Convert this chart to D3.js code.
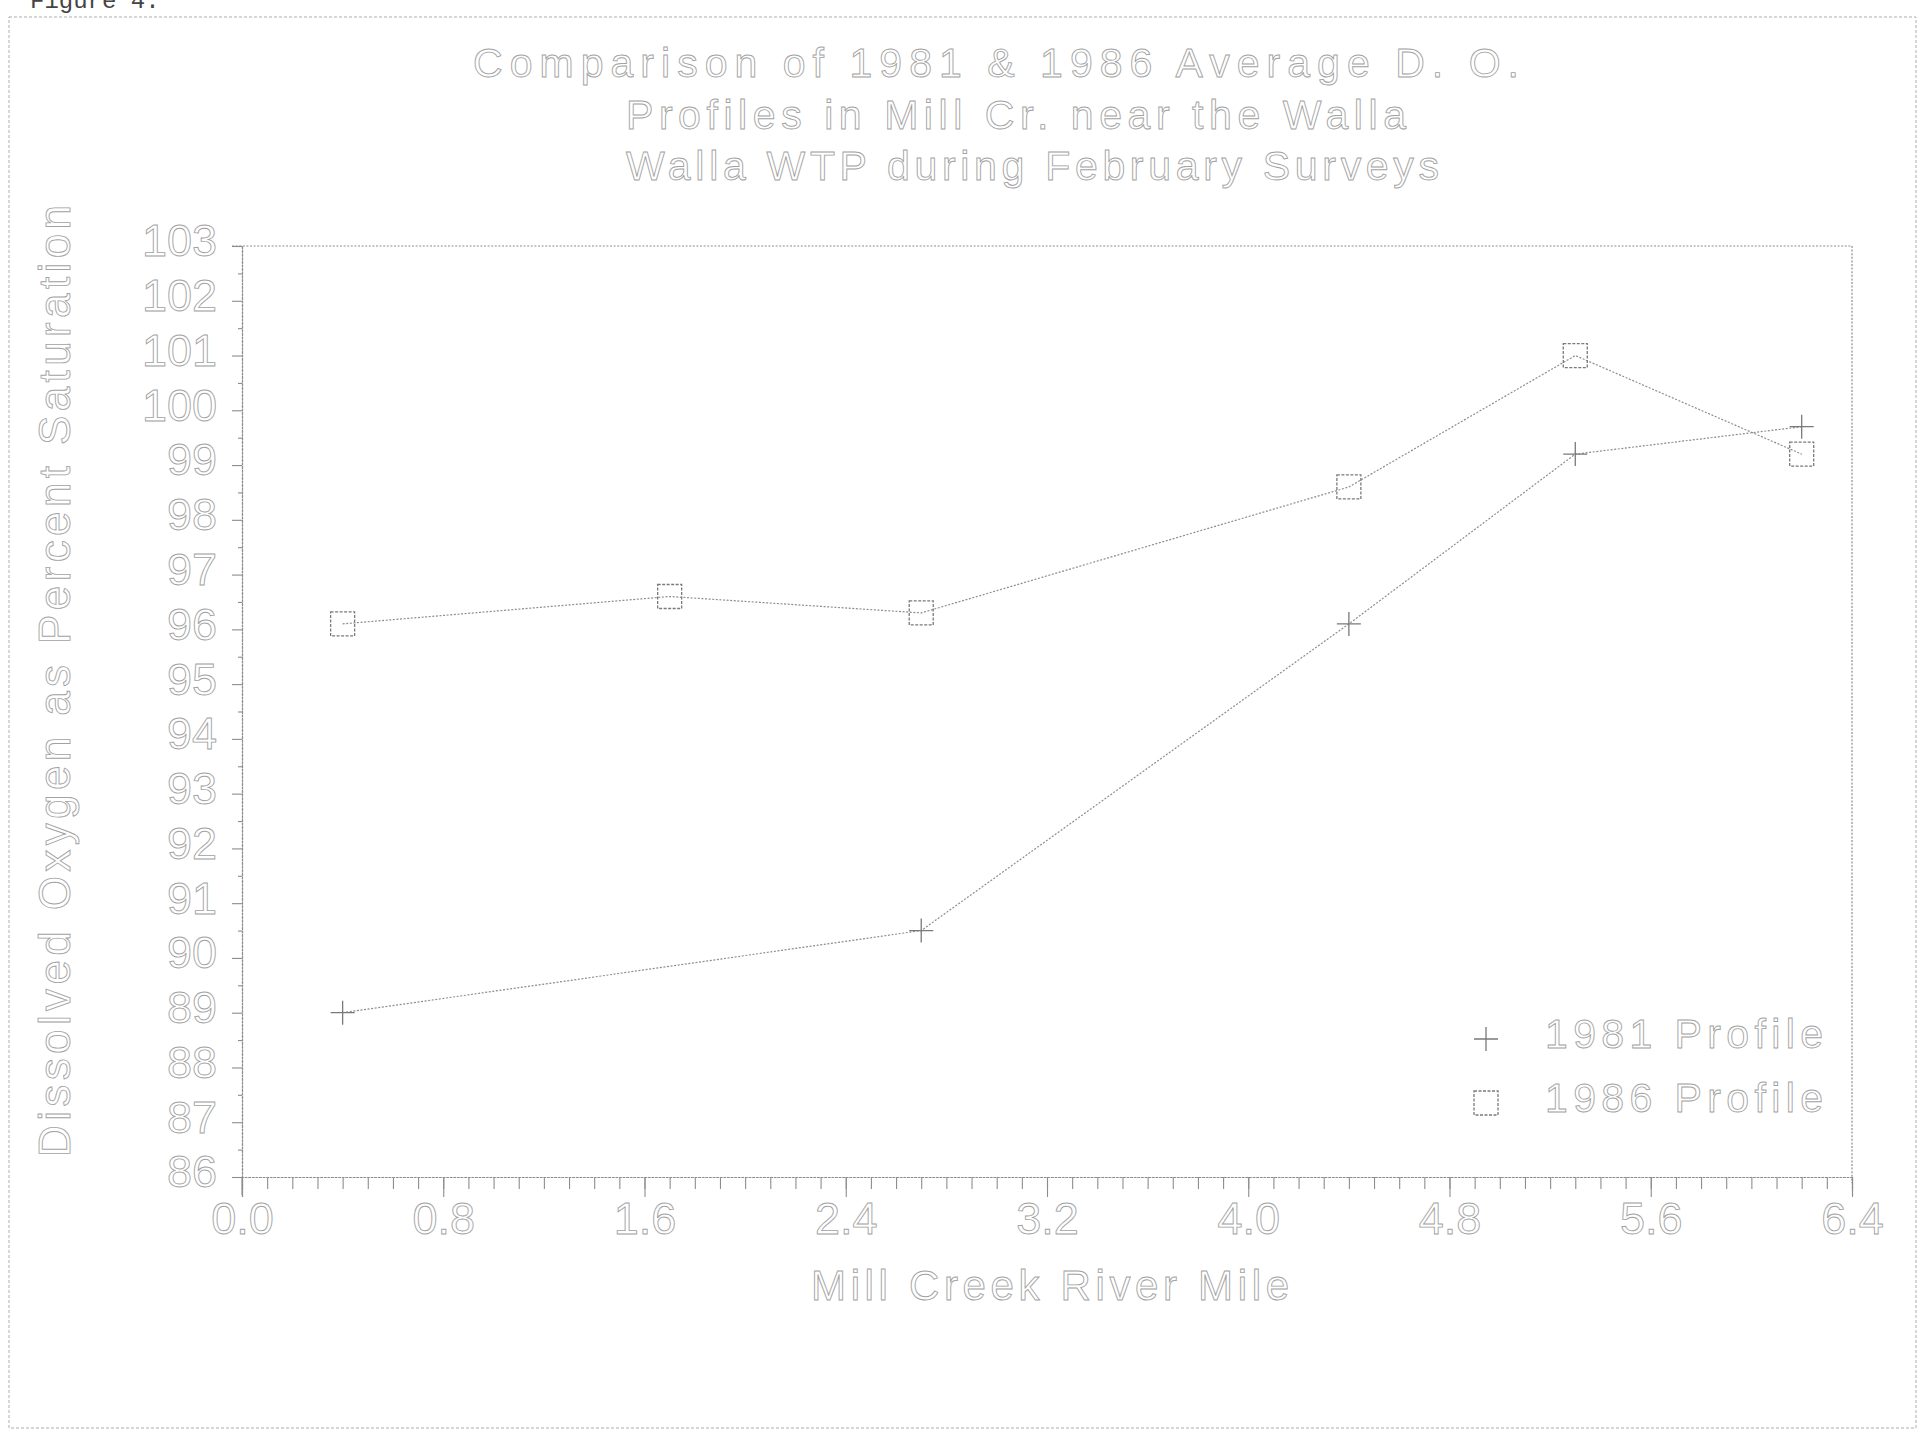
<!DOCTYPE html>
<html>
<head>
<meta charset="utf-8">
<title>Mill Creek D.O. profiles</title>
<script src="https://cdn.jsdelivr.net/npm/d3@7"></script>
<style>
  html, body { margin: 0; padding: 0; background: #fff; }
  svg { display: block; }
</style>
</head>
<body>
<svg id="chart" width="1926" height="1433"></svg>
<script>
// River mile stations and average dissolved-oxygen saturation (%) per survey year
const riverMiles1981 = [0.4, 2.7, 4.4, 5.3, 6.2];
const saturation1981 = [89.0, 90.5, 96.1, 99.2, 99.7];
const riverMiles1986 = [0.4, 1.7, 2.7, 4.4, 5.3, 6.2];
const saturation1986 = [96.1, 96.6, 96.3, 98.6, 101.0, 99.2];

const xMajorTicks = [0.0, 0.8, 1.6, 2.4, 3.2, 4.0, 4.8, 5.6, 6.4];
const xTickLabels = ["0.0", "0.8", "1.6", "2.4", "3.2", "4.0", "4.8", "5.6", "6.4"];
const yMajorTicks = [86, 87, 88, 89, 90, 91, 92, 93, 94, 95, 96, 97, 98, 99, 100, 101, 102, 103];
const yTickLabels = ["86", "87", "88", "89", "90", "91", "92", "93", "94", "95", "96", "97", "98", "99", "100", "101", "102", "103"];
const titleLines = [
  "Comparison of 1981 & 1986 Average D. O.",
  "Profiles in Mill Cr. near the Walla",
  "Walla WTP during February Surveys"
];
const seriesNames = ["1981 Profile", "1986 Profile"];
const xAxisTitle = "Mill Creek River Mile";
const yAxisTitle = "Dissolved Oxygen as Percent Saturation";
const figureLabel = "Figure 4.";

// Plotter-style look: thin grey strokes, hollow lettering
const INK = "#8d8d8d";
const TEXT_INK = "#a2a2a2";
const FONT = "'Liberation Sans', Arial, sans-serif";
const DASH = "2 1.6";

const svg = d3.select("#chart");

const x = d3.scaleLinear().domain([0, 6.4]).range([242, 1852]);
const y = d3.scaleLinear().domain([86, 103]).range([1177, 246]);

// page frame
svg.append("rect")
  .attr("x", 9).attr("y", 17).attr("width", 1907).attr("height", 1411)
  .attr("fill", "none").attr("stroke", "#adadad").attr("stroke-width", 1)
  .attr("stroke-dasharray", "3 2");

// figure number, typed above the frame
svg.append("text")
  .attr("x", 30).attr("y", 8)
  .attr("font-family", "'Liberation Mono', 'Courier New', monospace")
  .attr("font-size", 24)
  .attr("fill", "#444")
  .text(figureLabel);

function hollow(sel, size) {
  return sel.attr("font-family", FONT)
    .attr("font-size", size)
    .attr("fill", "none")
    .attr("stroke", TEXT_INK)
    .attr("stroke-width", 0.9);
}

// title block
const titleX = [473, 626, 626];
const titleY = [77, 129, 180];
const titleW = [1046, 780, 813];
titleLines.forEach((t, i) => {
  hollow(svg.append("text"), 41)
    .attr("x", titleX[i]).attr("y", titleY[i])
    .attr("textLength", titleW[i]).attr("lengthAdjust", "spacing")
    .text(t);
});

// plot frame: top and right edges
svg.append("path")
  .attr("d", `M${x(0) - 10},${y(103)}H${x(6.4)}V${y(86) + 6}`)
  .attr("fill", "none").attr("stroke", INK).attr("stroke-width", 1.2)
  .attr("stroke-dasharray", DASH);

// x axis: minor ticks every 0.1, labelled majors every 0.8
const xMinor = d3.range(0, 65).map(d => d / 10);
const gxMinor = svg.append("g").attr("transform", `translate(0,${y(86)})`)
  .call(d3.axisBottom(x).tickValues(xMinor).tickSize(12).tickFormat(""));
const gxMajor = svg.append("g").attr("transform", `translate(0,${y(86)})`)
  .call(d3.axisBottom(x).tickValues(xMajorTicks).tickSize(20).tickPadding(5)
    .tickFormat((d, i) => xTickLabels[i]));

// y axis: minor ticks each half unit, labelled majors each unit
const yMinor = d3.range(86.5, 103, 1);
const gyMinor = svg.append("g").attr("transform", `translate(${x(0)},0)`)
  .call(d3.axisLeft(y).tickValues(yMinor).tickSize(4).tickFormat(""));
const gyMajor = svg.append("g").attr("transform", `translate(${x(0)},0)`)
  .call(d3.axisLeft(y).tickValues(yMajorTicks).tickSize(10).tickPadding(15)
    .tickFormat((d, i) => yTickLabels[i]));

[gxMinor, gxMajor, gyMinor, gyMajor].forEach(g => {
  g.select(".domain").attr("stroke", INK).attr("stroke-width", 1.2).attr("stroke-dasharray", DASH);
  g.selectAll(".tick line").attr("stroke", INK).attr("stroke-width", 1.1);
});
gxMajor.selectAll(".tick text").call(s => hollow(s, 45)).attr("dy", "0.71em");
gyMajor.selectAll(".tick text").call(s => hollow(s, 45)).attr("dy", "0.22em");

// the y axis runs on past the x axis like the first major tick
svg.append("line")
  .attr("x1", x(0)).attr("x2", x(0)).attr("y1", y(86)).attr("y2", y(86) + 18)
  .attr("stroke", INK).attr("stroke-width", 1.1);

// axis titles
hollow(svg.append("text"), 42)
  .attr("x", 811).attr("y", 1300)
  .attr("textLength", 478).attr("lengthAdjust", "spacing")
  .text(xAxisTitle);

hollow(svg.append("text"), 44)
  .attr("text-anchor", "middle")
  .attr("transform", "translate(70,681) rotate(-90)")
  .attr("textLength", 952).attr("lengthAdjust", "spacing")
  .text(yAxisTitle);

// profile lines
const series = [
  { name: seriesNames[0], pts: riverMiles1981.map((m, i) => [m, saturation1981[i]]), symbol: "plus" },
  { name: seriesNames[1], pts: riverMiles1986.map((m, i) => [m, saturation1986[i]]), symbol: "square" }
];

const line = d3.line().x(d => x(d[0])).y(d => y(d[1]));

function drawSymbol(g, kind, cx, cy) {
  if (kind === "plus") {
    g.append("path")
      .attr("d", `M${cx - 12},${cy}H${cx + 12}M${cx},${cy - 12}V${cy + 12}`)
      .attr("fill", "none").attr("stroke", "#7a7a7a").attr("stroke-width", 1.3);
  } else {
    g.append("rect")
      .attr("x", cx - 12).attr("y", cy - 12).attr("width", 24).attr("height", 24)
      .attr("fill", "none").attr("stroke", "#7a7a7a").attr("stroke-width", 1.3)
      .attr("stroke-dasharray", "3 1.5");
  }
}

series.forEach(s => {
  svg.append("path")
    .datum(s.pts)
    .attr("d", line)
    .attr("fill", "none")
    .attr("stroke", INK)
    .attr("stroke-width", 1.2)
    .attr("stroke-dasharray", DASH);
  const g = svg.append("g");
  s.pts.forEach(p => drawSymbol(g, s.symbol, x(p[0]), y(p[1])));
});

// legend
const legendSymbolX = 1486;
const legendRowY = [1039, 1103];
series.forEach((s, i) => {
  drawSymbol(svg.append("g"), s.symbol, legendSymbolX, legendRowY[i]);
  hollow(svg.append("text"), 41)
    .attr("x", 1545).attr("y", legendRowY[i] + 9)
    .attr("textLength", 278).attr("lengthAdjust", "spacing")
    .text(s.name);
});
</script>
</body>
</html>
